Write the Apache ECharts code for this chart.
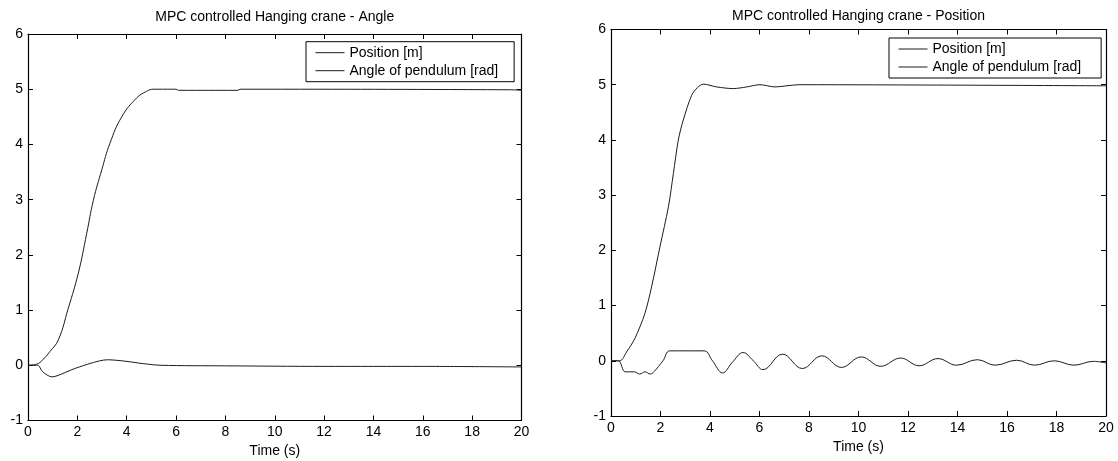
<!DOCTYPE html>
<html>
<head>
<meta charset="utf-8">
<script src="https://cdn.jsdelivr.net/npm/echarts@6/dist/echarts.min.js"></script>
<style>
  html, body { margin: 0; padding: 0; background: #ffffff; }
  #chart { width: 1118px; height: 461px; }
</style>
</head>
<body>
<div id="chart"></div>
<script>
// Axis ranges and tick steps shared by both panels
const xRange = [0, 20];
const xStep = 2;
const yRange = [-1, 6];
const yStep = 1;

const seriesNames = ['Position [m]', 'Angle of pendulum [rad]'];
const titles = ['MPC controlled Hanging crane - Angle', 'MPC controlled Hanging crane - Position'];
const xName = 'Time (s)';

// Left panel: angle-weighted controller
const angleRunPosT = [0, 0.35, 0.6, 0.89, 1.23, 1.63, 2.04, 2.38, 2.65, 2.99, 3.32, 3.8, 4.4, 4.8, 5.1, 6.0, 6.1, 8.5, 8.6, 19.5, 20];
const angleRunPosV = [0, 0.02, 0.1, 0.25, 0.46, 1.03, 1.67, 2.39, 2.99, 3.54, 4.02, 4.5, 4.84, 4.96, 5.0, 5.0, 4.98, 4.98, 5.0, 4.99, 4.98];
const angleRunAngT = [0, 0.39, 0.6, 0.97, 1.3, 1.77, 2.42, 2.9, 3.22, 3.6, 4.01, 4.67, 5.39, 8, 12, 16, 20];
const angleRunAngV = [0, 0, -0.12, -0.21, -0.17, -0.08, 0.02, 0.08, 0.10, 0.09, 0.07, 0.03, 0.0, -0.01, -0.02, -0.02, -0.03];

// Right panel: position-weighted controller
const posRunPosT = [0, 0.36, 0.63, 0.97, 1.37, 1.64, 1.98, 2.32, 2.52, 2.72, 2.92, 3.26, 3.5, 3.73, 4.27, 4.94, 5.48, 6.02, 6.63, 7.1, 7.6, 20];
const posRunPosV = [0, 0, 0.16, 0.41, 0.86, 1.34, 2.07, 2.79, 3.39, 4.0, 4.36, 4.81, 4.95, 5.01, 4.96, 4.93, 4.96, 5.0, 4.96, 4.98, 5.0, 4.98];
const posRunAngT = [0, 0.29, 0.58, 0.94, 1.16, 1.37, 1.59, 1.73, 2.1, 2.38, 3.76, 4.1, 4.51, 4.9, 5.34, 5.75, 6.14, 6.93, 7.73, 8.52, 9.31, 10.11, 10.9, 11.7, 12.45, 13.21, 13.96, 14.8, 15.52, 16.39, 17.11, 17.91, 18.7, 19.49, 20];
const posRunAngV = [0, 0, -0.2, -0.2, -0.24, -0.2, -0.24, -0.2, 0.0, 0.18, 0.18, 0.0, -0.22, -0.03, 0.15, 0.0, -0.16, 0.12, -0.14, 0.09, -0.12, 0.07, -0.10, 0.05, -0.09, 0.04, -0.08, 0.02, -0.08, 0.01, -0.08, 0.0, -0.08, -0.01, -0.04];

const pairs = (ts, vs) => ts.map((t, i) => [t, vs[i]]);

const FONT = 'Liberation Sans, Arial, Helvetica, sans-serif';
const INK = '#000000';
const CURVE = '#1c1c1c';

const panels = [
  { grid: { left: 28, top: 34, width: 493.5, height: 386.5 }, titleX: 274.75, titleTop: 10.5,
    legend: { left: 306, top: 41.7, padding: [4, 16, 4, 9] } },
  { grid: { left: 611, top: 29.5, width: 495, height: 386.5 }, titleX: 858.5, titleTop: 9,
    legend: { left: 889, top: 38, padding: [4, 20, 4, 9] } }
];

const tickStyle = { show: true, inside: true, length: 5, lineStyle: { color: INK, width: 1 } };
const lineStyle = { show: true, onZero: false, lineStyle: { color: INK, width: 1.2 } };
const labelStyle = { color: INK, fontFamily: FONT, fontSize: 14 };

const grids = [], xAxes = [], yAxes = [], legends = [], titleList = [];
panels.forEach((p, gi) => {
  grids.push(Object.assign({ containLabel: false, outerBoundsMode: 'none' }, p.grid));
  titleList.push({
    text: titles[gi], left: p.titleX, top: p.titleTop, textAlign: 'center', padding: 0,
    textStyle: { color: INK, fontFamily: FONT, fontSize: 14, fontWeight: 'normal' }
  });
  ['bottom', 'top'].forEach(pos => xAxes.push({
    type: 'value', gridIndex: gi, position: pos, min: xRange[0], max: xRange[1], interval: xStep,
    axisLine: lineStyle, axisTick: tickStyle, splitLine: { show: false },
    axisLabel: pos === 'bottom' ? Object.assign({ show: true, margin: 5 }, labelStyle) : { show: false },
    name: pos === 'bottom' ? xName : '', nameLocation: 'middle', nameGap: 22,
    nameTextStyle: labelStyle
  }));
  ['left', 'right'].forEach(pos => yAxes.push({
    type: 'value', gridIndex: gi, position: pos, min: yRange[0], max: yRange[1], interval: yStep,
    axisLine: lineStyle, axisTick: tickStyle, splitLine: { show: false },
    axisLabel: pos === 'left' ? Object.assign({ show: true, margin: 5 }, labelStyle) : { show: false }
  }));
  legends.push(Object.assign({
    orient: 'vertical', data: seriesNames, itemWidth: 29, itemHeight: 14, itemGap: 4,
    // plain line samples: the marker symbol is kept fully transparent
    itemStyle: { opacity: 0, borderWidth: 0 },
    lineStyle: { color: CURVE, width: 1 },
    backgroundColor: '#ffffff', borderColor: INK, borderWidth: 1, borderRadius: 0,
    selectedMode: false,
    textStyle: { color: INK, fontFamily: FONT, fontSize: 14 }
  }, p.legend));
});

function curve(name, data, gi, smooth) {
  return {
    type: 'line', name: name, data: data,
    xAxisIndex: gi * 2, yAxisIndex: gi * 2,
    symbol: 'none', smooth: smooth, animation: false,
    lineStyle: { color: CURVE, width: 1 }, itemStyle: { color: CURVE }
  };
}

const option = {
  backgroundColor: '#ffffff',
  animation: false,
  title: titleList,
  legend: legends,
  grid: grids,
  xAxis: xAxes,
  yAxis: yAxes,
  series: [
    curve(seriesNames[0], pairs(angleRunPosT, angleRunPosV), 0, 0.45),
    curve(seriesNames[1], pairs(angleRunAngT, angleRunAngV), 0, 0.3),
    curve(seriesNames[0], pairs(posRunPosT, posRunPosV), 1, 0.3),
    curve(seriesNames[1], pairs(posRunAngT, posRunAngV), 1, 0.4)
  ]
};

const chart = echarts.init(document.getElementById('chart'), null, { renderer: 'canvas' });
chart.setOption(option);
</script>
</body>
</html>
